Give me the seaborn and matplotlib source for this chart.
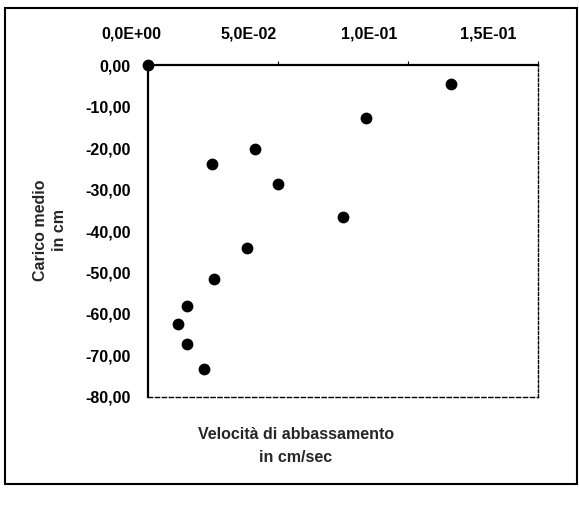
import matplotlib
matplotlib.use("Agg")
import matplotlib.pyplot as plt
import matplotlib.transforms as mtransforms
import seaborn as sns
import pandas as pd
from matplotlib.patches import Rectangle
from matplotlib.ticker import FuncFormatter

# -----------------------------
# Dati
# -----------------------------
velocita = [0.0, 0.1167, 0.0838, 0.0414, 0.0249, 0.0502, 0.0752,
            0.0381, 0.0256, 0.0152, 0.0117, 0.0150, 0.0218]
carico = [0.0, -4.65, -12.85, -20.1, -23.9, -28.6, -36.5,
          -44.2, -51.6, -58.1, -62.5, -67.2, -73.3]
x_ticks = [0.0, 0.05, 0.10, 0.15]
y_ticks = [0, -10, -20, -30, -40, -50, -60, -70, -80]

df = pd.DataFrame({"velocita": velocita, "carico": carico})

sns.set_style("white")
plt.rcParams["font.family"] = ["Liberation Sans", "DejaVu Sans"]
plt.rcParams["font.weight"] = "bold"

fig = plt.figure(figsize=(5.79, 5.05), dpi=100)
ax = fig.add_axes([0.255, 0.214, 0.674, 0.657])

sns.scatterplot(data=df, x="velocita", y="carico", ax=ax, color="black",
                s=72, edgecolor="black", linewidth=0, clip_on=False, zorder=5)

ax.set_xlim(0, 0.15)
ax.set_ylim(-80, 0)
ax.set_xticks(x_ticks)
ax.set_yticks(y_ticks)


def fmt_sci(v, pos):
    s = f"{v:.1E}".replace(".", ",")
    mant, exp = s.split("E")
    sign = exp[0]
    return f"{mant}E{sign}{int(exp[1:]):02d}"


ax.xaxis.set_major_formatter(FuncFormatter(fmt_sci))
ax.yaxis.set_major_formatter(FuncFormatter(lambda v, p: f"{v:.2f}".replace(".", ",")))
ax.xaxis.tick_top()
ax.tick_params(axis="x", which="major", direction="out", length=3, width=0.8,
               labelsize=11.5, pad=14, colors="black")
ax.tick_params(axis="y", which="major", direction="out", length=3, width=0.8,
               labelsize=11.5, pad=9, colors="black")
for lab in ax.get_xticklabels() + ax.get_yticklabels():
    lab.set_fontweight("bold")

# nella scansione le etichette in alto sono spostate a sinistra (in punti)
label_shift = [-12, -21, -28, -36]
for lab, dx in zip(ax.get_xticklabels(), label_shift):
    off = mtransforms.ScaledTranslation(dx / 72, 0, fig.dpi_scale_trans)
    lab.set_transform(lab.get_transform() + off)

ax.spines["left"].set_linewidth(1.6)
ax.spines["top"].set_linewidth(1.6)
ax.spines["right"].set_linewidth(1.0)
ax.spines["right"].set_linestyle((0, (2, 1.5)))
ax.spines["bottom"].set_linewidth(1.0)
ax.spines["bottom"].set_linestyle((0, (3, 2)))
for sp in ax.spines.values():
    sp.set_color("black")

ax.set_xlabel("")
ax.set_ylabel("")
fig.text(0.086, 0.545, "Carico medio\nin cm", rotation=90, ha="center",
         va="center", fontsize=11.5, fontweight="bold", linespacing=1.3)
fig.text(0.511, 0.117, "Velocità di abbassamento\nin cm/sec", ha="center",
         va="center", fontsize=11.5, fontweight="bold", linespacing=1.6)

# cornice esterna
fig.patches.append(Rectangle((5 / 579, 1 - 484 / 505), 572 / 579, 476 / 505,
                             transform=fig.transFigure, fill=False,
                             edgecolor="black", linewidth=1.5))

fig.savefig("out.png", dpi=100)
